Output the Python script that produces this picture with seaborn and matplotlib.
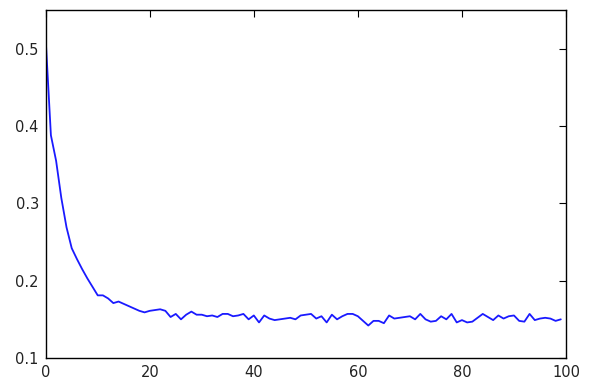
import matplotlib
matplotlib.use("Agg")
import matplotlib.pyplot as plt
import seaborn as sns
import pandas as pd

epochs = list(range(100))
loss = [0.512, 0.388, 0.355, 0.307, 0.269, 0.242, 0.228, 0.215, 0.203, 0.192,
        0.181, 0.181, 0.177, 0.171, 0.173, 0.170, 0.167, 0.164, 0.161, 0.159,
        0.161, 0.162, 0.163, 0.161, 0.153, 0.157, 0.150, 0.156, 0.160, 0.156,
        0.156, 0.154, 0.155, 0.153, 0.157, 0.157, 0.154, 0.155, 0.157, 0.150,
        0.155, 0.146, 0.155, 0.151, 0.149, 0.150, 0.151, 0.152, 0.150, 0.155,
        0.156, 0.157, 0.151, 0.154, 0.146, 0.156, 0.150, 0.154, 0.157, 0.157,
        0.154, 0.148, 0.142, 0.148, 0.148, 0.145, 0.155, 0.151, 0.152, 0.153,
        0.154, 0.150, 0.157, 0.150, 0.147, 0.148, 0.154, 0.150, 0.157, 0.146,
        0.149, 0.146, 0.147, 0.152, 0.157, 0.153, 0.149, 0.155, 0.151, 0.154,
        0.155, 0.148, 0.147, 0.157, 0.149, 0.151, 0.152, 0.151, 0.148, 0.150]
xticks = [0, 20, 40, 60, 80, 100]
yticks = [0.1, 0.2, 0.3, 0.4, 0.5]

sns.set_style("white")
plt.rcParams['font.family'] = ['DejaVu Sans']
plt.rcParams.update({
    'xtick.direction': 'in', 'ytick.direction': 'in',
    'xtick.top': True, 'ytick.right': True,
})

df = pd.DataFrame({'epoch': epochs, 'loss': loss})

fig = plt.figure(figsize=(5.89, 3.79), dpi=100)
ax = fig.add_axes([45.7 / 589, 1 - 358 / 379, (566 - 45.7) / 589, (358 - 10) / 379])
sns.lineplot(data=df, x='epoch', y='loss', ax=ax, color='#1a1aff', linewidth=1.3)
ax.set_xlim(0, 100)
ax.set_ylim(0.1, 0.55)
ax.set_xticks(xticks)
ax.set_yticks(yticks)
ax.set_xticklabels([str(t) for t in xticks])
ax.set_yticklabels([str(t) for t in yticks])
ax.set_xlabel('')
ax.set_ylabel('')
for s in ax.spines.values():
    s.set_color('black')
    s.set_linewidth(1.0)
ax.tick_params(axis='both', which='major', length=5, width=0.8, color='black',
               labelsize=10.5, labelcolor='#222222', pad=5)
fig.savefig('out.png', dpi=100, facecolor='white')
